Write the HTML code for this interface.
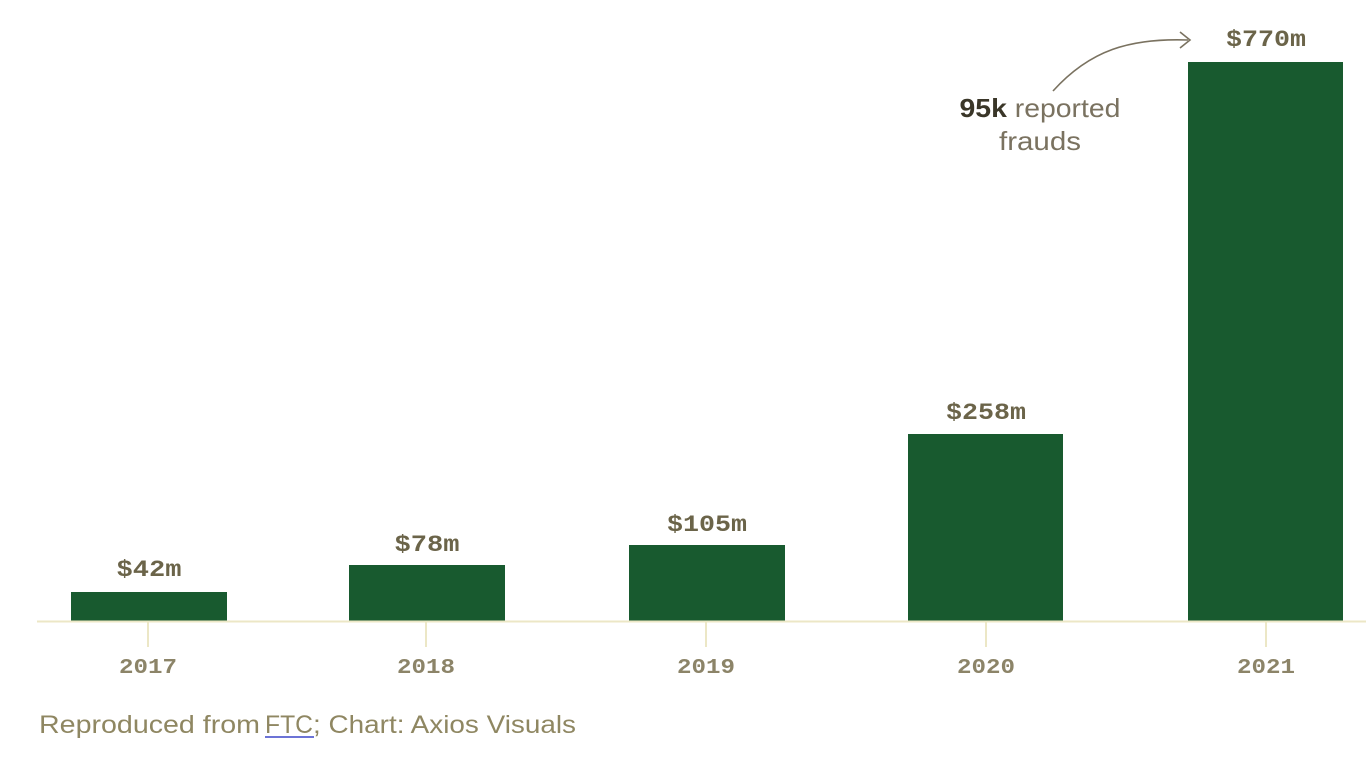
<!DOCTYPE html>
<html><head><meta charset="utf-8"><style>
html,body{margin:0;padding:0;background:#fff;width:1366px;height:768px;overflow:hidden}
svg{display:block}
.v{font-family:"Liberation Mono",monospace;font-weight:bold;font-size:23px;fill:#6b6449;text-anchor:middle}
.y{font-family:"Liberation Mono",monospace;font-weight:bold;font-size:21px;fill:#8c8468;text-anchor:middle}
.s{font-family:"Liberation Sans",sans-serif;font-size:25px;fill:#8f8762}
.a{font-family:"Liberation Sans",sans-serif;font-size:26px;fill:#7a7260;text-anchor:middle}
</style></head><body>
<svg width="1366" height="768" xmlns="http://www.w3.org/2000/svg">
<g fill="#185a2f">
<rect x="71" y="592" width="156" height="29"/>
<rect x="349" y="565" width="156" height="56"/>
<rect x="629" y="545" width="156" height="76"/>
<rect x="908" y="434" width="155" height="187"/>
<rect x="1188" y="62" width="155" height="559"/>
</g>
<line x1="37" y1="621.5" x2="1366" y2="621.5" stroke="#ece7c6" stroke-width="2"/>
<g stroke="#ece7c6" stroke-width="2">
<line x1="148" y1="622" x2="148" y2="647"/>
<line x1="426" y1="622" x2="426" y2="647"/>
<line x1="706" y1="622" x2="706" y2="647"/>
<line x1="986" y1="622" x2="986" y2="647"/>
<line x1="1266" y1="622" x2="1266" y2="647"/>
</g>
<text class="v" x="149" y="576" textLength="65" lengthAdjust="spacingAndGlyphs">$42m</text>
<text class="v" x="427" y="551" textLength="65" lengthAdjust="spacingAndGlyphs">$78m</text>
<text class="v" x="707" y="531" textLength="80" lengthAdjust="spacingAndGlyphs">$105m</text>
<text class="v" x="986" y="419" textLength="80" lengthAdjust="spacingAndGlyphs">$258m</text>
<text class="v" x="1266" y="46" textLength="80" lengthAdjust="spacingAndGlyphs">$770m</text>
<text class="y" x="148" y="673" textLength="58" lengthAdjust="spacingAndGlyphs">2017</text>
<text class="y" x="426" y="673" textLength="58" lengthAdjust="spacingAndGlyphs">2018</text>
<text class="y" x="706" y="673" textLength="58" lengthAdjust="spacingAndGlyphs">2019</text>
<text class="y" x="986" y="673" textLength="58" lengthAdjust="spacingAndGlyphs">2020</text>
<text class="y" x="1266" y="673" textLength="58" lengthAdjust="spacingAndGlyphs">2021</text>
<text class="a" x="1040" y="117" textLength="161" lengthAdjust="spacingAndGlyphs"><tspan font-weight="bold" fill="#3a3628">95k</tspan> reported</text>
<text class="a" x="1040" y="150" textLength="82" lengthAdjust="spacingAndGlyphs">frauds</text>
<path d="M1053 91 C1090 50 1130 38 1188 40" fill="none" stroke="#7a7260" stroke-width="1.6"/>
<path d="M1180 32 L1190 40 L1180 48" fill="none" stroke="#7a7260" stroke-width="1.6"/>
<text class="s" x="39" y="733" textLength="221" lengthAdjust="spacingAndGlyphs">Reproduced from</text>
<text class="s" x="265" y="733" textLength="48" lengthAdjust="spacingAndGlyphs">FTC</text>
<text class="s" x="313" y="733" textLength="263" lengthAdjust="spacingAndGlyphs">; Chart: Axios Visuals</text>
<line x1="265" y1="737" x2="314" y2="737" stroke="#3c45c8" stroke-width="1.5"/>
</svg>
</body></html>
